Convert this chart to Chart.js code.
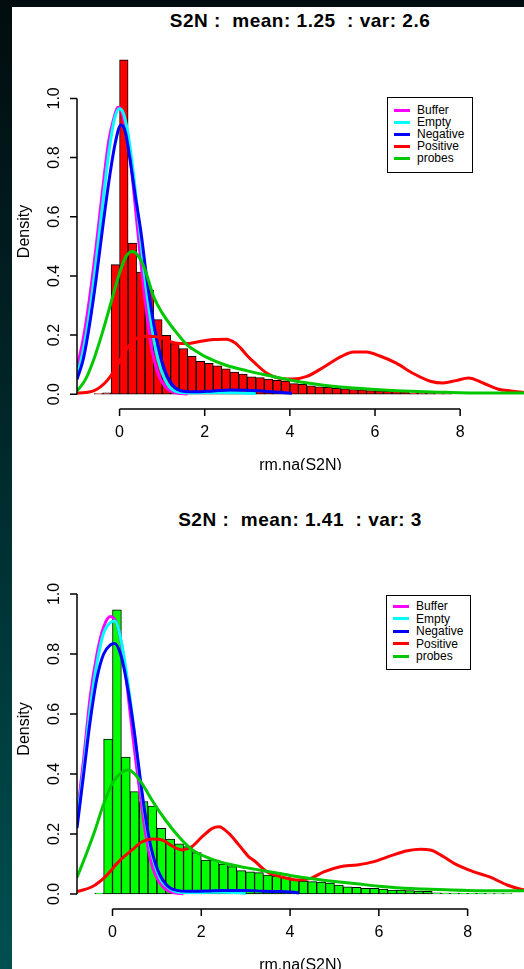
<!DOCTYPE html>
<html>
<head>
<meta charset="utf-8">
<title>S2N density</title>
<script src="https://cdn.jsdelivr.net/npm/chart.js@4.4.1/dist/chart.umd.min.js"></script>
<style>
  html, body { margin: 0; padding: 0; }
  body {
    width: 524px; height: 969px; overflow: hidden; position: relative;
    background: linear-gradient(to bottom, #020c0e 0%, #00282a 45%, #005050 100%);
    font-family: "Liberation Sans", Arial, sans-serif;
  }
  #panel { position: absolute; left: 12px; top: 7px; right: 0; bottom: 0; background: #fff; }
  canvas { position: absolute; left: 0; }
  .title {
    position: absolute; left: 0; width: 600px; text-align: center;
    font-weight: bold; font-size: 19px; letter-spacing: 0.5px; line-height: 20px; white-space: pre; color: #000;
  }
  .legend { position: absolute; border: 1px solid #000; background: #fff; box-sizing: border-box; }
  .legend .key { position: absolute; left: 6px; width: 16px; height: 3px; }
  .legend .lbl { position: absolute; left: 29px; font-size: 12px; line-height: 12px; color: #000; white-space: nowrap; }
</style>
</head>
<body>
<div id="panel"></div>
<div class="title" id="title1" style="top:11px"></div>
<canvas id="chart1" width="524" height="470" style="top:0"></canvas>
<div class="legend" id="legend1" style="left:387px; top:97px; width:86px; height:76px"></div>

<div class="title" id="title2" style="top:510px"></div>
<canvas id="chart2" width="524" height="489" style="top:480px"></canvas>
<div class="legend" id="legend2" style="left:386px; top:595px; width:85px; height:75px"></div>

<script>
const xTicks = [0, 2, 4, 6, 8];
const yTicks = [0, 0.2, 0.4, 0.6, 0.8, 1.0];
const yTickLabels = ['0.0', '0.2', '0.4', '0.6', '0.8', '1.0'];
const xLabel = 'rm.na(S2N)';
const yLabel = 'Density';
const legendLabels = ['Buffer', 'Empty', 'Negative', 'Positive', 'probes'];
const lineColors = ['#ff00ff', '#00ffff', '#0000ff', '#ff0000', '#00c800'];

// ---- top panel ----
const topTitle = 'S2N :  mean: 1.25  : var: 2.6';
const topBins = [-0.5, -0.3, -0.1, 0.1, 0.3, 0.5, 0.7, 0.9, 1.1, 1.3, 1.5, 1.7, 1.9, 2.1,
  2.3, 2.5, 2.7, 2.9, 3.1, 3.3, 3.5, 3.7, 3.9, 4.1, 4.3, 4.5, 4.7, 4.9, 5.1, 5.3, 5.5,
  5.7, 5.9, 6.1, 6.3, 6.5, 6.7, 6.9, 7.1, 7.3, 7.5, 7.7];
const topHist = [0.002, 0.005, 0.438, 1.13, 0.511, 0.413, 0.351, 0.252, 0.199, 0.171, 0.154,
  0.128, 0.111, 0.104, 0.096, 0.086, 0.075, 0.068, 0.059, 0.056, 0.051, 0.047, 0.044, 0.036,
  0.033, 0.028, 0.025, 0.023, 0.020, 0.018, 0.016, 0.015, 0.012, 0.011, 0.010, 0.010, 0.009,
  0.004, 0.003, 0.003, 0.002, 0.002];

const topBuffer = [[-1, 0.09], [-0.85, 0.19], [-0.7, 0.33], [-0.55, 0.5], [-0.4, 0.69], [-0.25, 0.86],
  [-0.12, 0.94], [-0.04, 0.97], [0.05, 0.955], [0.17, 0.88], [0.28, 0.76], [0.4, 0.59], [0.52, 0.42],
  [0.64, 0.27], [0.76, 0.15], [0.88, 0.08], [1.0, 0.04], [1.15, 0.015], [1.35, 0.004], [1.6, 0.001]];
const topEmpty = [[-1, 0.06], [-0.85, 0.15], [-0.7, 0.28], [-0.55, 0.45], [-0.4, 0.64], [-0.25, 0.82],
  [-0.12, 0.93], [-0.01, 0.965], [0.09, 0.95], [0.21, 0.87], [0.33, 0.74], [0.46, 0.57], [0.59, 0.4],
  [0.72, 0.26], [0.85, 0.15], [0.98, 0.08], [1.12, 0.035], [1.28, 0.012], [1.45, 0.006], [1.8, 0.005],
  [2.3, 0.006], [2.8, 0.005], [3.2, 0.002]];
const topNegative = [[-1, 0.05], [-0.85, 0.12], [-0.7, 0.24], [-0.55, 0.39], [-0.4, 0.56], [-0.25, 0.72],
  [-0.1, 0.85], [0.03, 0.91], [0.13, 0.89], [0.24, 0.8], [0.37, 0.67], [0.5, 0.55], [0.65, 0.38],
  [0.8, 0.24], [0.96, 0.13], [1.12, 0.06], [1.3, 0.022], [1.5, 0.01], [1.8, 0.008], [2.2, 0.011],
  [2.6, 0.014], [3.0, 0.013], [3.4, 0.01], [3.8, 0.006], [4.05, 0.003]];
const topPositive = [[-1, 0.003], [-0.6, 0.012], [-0.3, 0.045], [-0.1, 0.085], [0.05, 0.125], [0.2, 0.16],
  [0.4, 0.188], [0.6, 0.196], [0.8, 0.195], [1.0, 0.19], [1.3, 0.173], [1.6, 0.171], [1.9, 0.179],
  [2.2, 0.185], [2.5, 0.186], [2.7, 0.175], [2.85, 0.155], [3.0, 0.13], [3.15, 0.109], [3.45, 0.072],
  [3.75, 0.054], [4.05, 0.051], [4.4, 0.06], [4.8, 0.092], [5.2, 0.127], [5.5, 0.143], [5.8, 0.143],
  [6.1, 0.13], [6.5, 0.105], [6.9, 0.07], [7.3, 0.044], [7.6, 0.038], [7.9, 0.046], [8.2, 0.055],
  [8.55, 0.037], [8.9, 0.017], [9.2, 0.011], [9.5, 0.006]];
const topProbes = [[-1, 0.01], [-0.8, 0.05], [-0.6, 0.12], [-0.4, 0.21], [-0.2, 0.31], [0, 0.41],
  [0.15, 0.465], [0.3, 0.482], [0.45, 0.465], [0.6, 0.42], [0.8, 0.33], [1.0, 0.275], [1.3, 0.215],
  [1.6, 0.165], [1.8, 0.145], [2.0, 0.128], [2.5, 0.098], [3.0, 0.079], [3.5, 0.063], [4.0, 0.048],
  [4.5, 0.036], [5.0, 0.027], [5.5, 0.021], [6.0, 0.016], [6.5, 0.012], [7.0, 0.009], [7.5, 0.007],
  [8.0, 0.005], [9.0, 0.004], [9.5, 0.004]];

// ---- bottom panel ----
const bottomTitle = 'S2N :  mean: 1.41  : var: 3';
const bottomBins = [-0.3, -0.1, 0.1, 0.3, 0.5, 0.7, 0.9, 1.1, 1.3, 1.5, 1.7, 1.9, 2.1, 2.3, 2.5,
  2.7, 2.9, 3.1, 3.3, 3.5, 3.7, 3.9, 4.1, 4.3, 4.5, 4.7, 4.9, 5.1, 5.3, 5.5, 5.7, 5.9, 6.1, 6.3,
  6.5, 6.7, 6.9, 7.1, 7.3, 7.5, 7.7, 7.9, 8.1, 8.3, 8.5, 8.7, 8.9];
const bottomHist = [0.003, 0.516, 0.947, 0.456, 0.341, 0.308, 0.293, 0.219, 0.183, 0.167, 0.158,
  0.138, 0.113, 0.113, 0.100, 0.091, 0.078, 0.074, 0.071, 0.063, 0.060, 0.056, 0.047, 0.043,
  0.041, 0.040, 0.036, 0.030, 0.024, 0.022, 0.019, 0.019, 0.016, 0.013, 0.013, 0.011, 0.010,
  0.009, 0.004, 0.003, 0.003, 0.002, 0.002, 0.002, 0.001, 0.001, 0.001];

const bottomBuffer = [[-0.8, 0.26], [-0.65, 0.45], [-0.5, 0.66], [-0.35, 0.8], [-0.2, 0.89], [-0.05, 0.925],
  [0.1, 0.9], [0.25, 0.79], [0.4, 0.6], [0.52, 0.45], [0.65, 0.3], [0.78, 0.17], [0.9, 0.09],
  [1.05, 0.04], [1.2, 0.015], [1.4, 0.004], [1.6, 0.001]];
const bottomEmpty = [[-0.8, 0.24], [-0.65, 0.42], [-0.5, 0.62], [-0.35, 0.77], [-0.2, 0.87], [-0.05, 0.905],
  [0.05, 0.91], [0.2, 0.84], [0.35, 0.7], [0.5, 0.53], [0.62, 0.38], [0.74, 0.25], [0.86, 0.15],
  [0.97, 0.09], [1.08, 0.05], [1.19, 0.03], [1.3, 0.017], [1.42, 0.008], [1.6, 0.005], [2.0, 0.005],
  [2.5, 0.006], [2.9, 0.004], [3.0, 0.002]];
const bottomNegative = [[-0.8, 0.22], [-0.65, 0.4], [-0.5, 0.58], [-0.35, 0.72], [-0.2, 0.8], [-0.05, 0.83],
  [0.05, 0.835], [0.2, 0.79], [0.35, 0.68], [0.5, 0.53], [0.62, 0.39], [0.74, 0.26], [0.86, 0.16],
  [0.97, 0.1], [1.08, 0.06], [1.19, 0.035], [1.3, 0.02], [1.45, 0.012], [1.7, 0.009], [2.1, 0.01],
  [2.5, 0.012], [3.0, 0.012], [3.4, 0.009], [3.8, 0.008], [4.1, 0.006], [4.2, 0.003]];
const bottomPositive = [[-0.8, 0.008], [-0.46, 0.024], [-0.16, 0.058], [0.14, 0.108], [0.44, 0.147],
  [0.67, 0.174], [0.89, 0.183], [1.12, 0.18], [1.34, 0.16], [1.57, 0.147], [1.79, 0.158], [2.02, 0.191],
  [2.25, 0.219], [2.4, 0.224], [2.62, 0.202], [2.85, 0.163], [3.07, 0.124], [3.2, 0.11], [3.48, 0.074],
  [3.78, 0.058], [4.16, 0.047], [4.46, 0.052], [4.76, 0.074], [5.13, 0.091], [5.51, 0.097], [5.89, 0.108],
  [6.26, 0.127], [6.64, 0.144], [6.94, 0.149], [7.16, 0.147], [7.46, 0.124], [7.76, 0.097], [8.14, 0.074],
  [8.51, 0.056], [8.89, 0.03], [9.2, 0.016], [9.27, 0.014]];
const bottomProbes = [[-0.8, 0.055], [-0.6, 0.13], [-0.4, 0.21], [-0.2, 0.3], [0, 0.37], [0.2, 0.405],
  [0.35, 0.413], [0.5, 0.4], [0.7, 0.36], [0.9, 0.31], [1.2, 0.245], [1.5, 0.19], [1.8, 0.147],
  [2.2, 0.118], [2.6, 0.1], [3.0, 0.088], [3.5, 0.075], [4.0, 0.062], [4.5, 0.051], [5.0, 0.042],
  [5.5, 0.034], [6.0, 0.026], [6.5, 0.02], [7.0, 0.017], [7.5, 0.014], [8.0, 0.012], [9.0, 0.011],
  [9.27, 0.011]];

// R style axes: lines only over the tick range, rotated y labels
const rAxes = {
  id: 'rAxes',
  afterDraw(chart) {
    const { ctx, chartArea, scales: { x, y } } = chart;
    const bottom = chartArea.bottom;
    const left = chartArea.left;
    ctx.save();
    ctx.strokeStyle = '#000';
    ctx.fillStyle = '#000';
    ctx.lineWidth = 1.5;

    ctx.beginPath();
    ctx.moveTo(x.getPixelForValue(xTicks[0]), bottom);
    ctx.lineTo(x.getPixelForValue(xTicks[xTicks.length - 1]), bottom);
    xTicks.forEach(v => {
      const px = x.getPixelForValue(v);
      ctx.moveTo(px, bottom);
      ctx.lineTo(px, bottom + 7);
    });
    ctx.moveTo(left, y.getPixelForValue(yTicks[0]));
    ctx.lineTo(left, y.getPixelForValue(yTicks[yTicks.length - 1]));
    yTicks.forEach(v => {
      const py = y.getPixelForValue(v);
      ctx.moveTo(left, py);
      ctx.lineTo(left - 7, py);
    });
    ctx.stroke();

    ctx.font = '16px "Liberation Sans", Arial, sans-serif';
    ctx.textAlign = 'center';
    ctx.textBaseline = 'middle';
    xTicks.forEach(v => ctx.fillText(String(v), x.getPixelForValue(v), bottom + 24));
    ctx.fillText(xLabel, (left + chartArea.right) / 2, bottom + 57);

    yTicks.forEach((v, i) => {
      ctx.save();
      ctx.translate(left - 22, y.getPixelForValue(v));
      ctx.rotate(-Math.PI / 2);
      ctx.fillText(yTickLabels[i], 0, 0);
      ctx.restore();
    });
    ctx.save();
    ctx.translate(left - 52, (chartArea.top + bottom) / 2);
    ctx.rotate(-Math.PI / 2);
    ctx.fillText(yLabel, 0, 0);
    ctx.restore();
    ctx.restore();
  }
};

function toPoints(pairs) {
  return pairs.map(p => ({ x: p[0], y: p[1] }));
}

function makeChart(id, bins, hist, barColor, curves, xMin, xMax, pad) {
  const datasets = [{
    type: 'bar',
    data: bins.map((b, i) => ({ x: b, y: hist[i] })),
    backgroundColor: barColor,
    borderColor: '#000',
    borderWidth: 1,
    borderSkipped: false,
    barPercentage: 1,
    categoryPercentage: 1,
    order: 10
  }];
  curves.forEach((c, i) => {
    datasets.push({
      type: 'line',
      data: toPoints(c),
      borderColor: lineColors[i],
      borderWidth: 3,
      pointRadius: 0,
      fill: false,
      cubicInterpolationMode: 'monotone',
      order: 5 - i
    });
  });
  return new Chart(document.getElementById(id), {
    type: 'bar',
    data: { datasets },
    options: {
      responsive: false,
      animation: false,
      devicePixelRatio: 1,
      layout: { padding: pad },
      plugins: { legend: { display: false }, tooltip: { enabled: false } },
      scales: {
        x: { type: 'linear', min: xMin, max: xMax, offset: false, display: false },
        y: { type: 'linear', min: -0.05, max: 1.15, display: false }
      }
    },
    plugins: [rAxes]
  });
}

function makeLegend(id, step, first) {
  const box = document.getElementById(id);
  legendLabels.forEach((name, i) => {
    const cy = first + i * step;
    const key = document.createElement('div');
    key.className = 'key';
    key.style.top = (cy - 1.5) + 'px';
    key.style.background = lineColors[i];
    const lbl = document.createElement('div');
    lbl.className = 'lbl';
    lbl.style.top = (cy - 6) + 'px';
    lbl.textContent = name;
    box.appendChild(key);
    box.appendChild(lbl);
  });
}

document.getElementById('title1').textContent = topTitle;
document.getElementById('title2').textContent = bottomTitle;

makeChart('chart1', topBins, topHist, '#ff0000',
  [topBuffer, topEmpty, topNegative, topPositive, topProbes], -1, 9.5,
  { left: 77, right: 0, top: 54, bottom: 61 });
makeChart('chart2', bottomBins, bottomHist, '#00ff00',
  [bottomBuffer, bottomEmpty, bottomNegative, bottomPositive, bottomProbes], -0.8, 9.27,
  { left: 77, right: 0, top: 69, bottom: 60 });

makeLegend('legend1', 12, 12);
makeLegend('legend2', 12.5, 10);
</script>
</body>
</html>
